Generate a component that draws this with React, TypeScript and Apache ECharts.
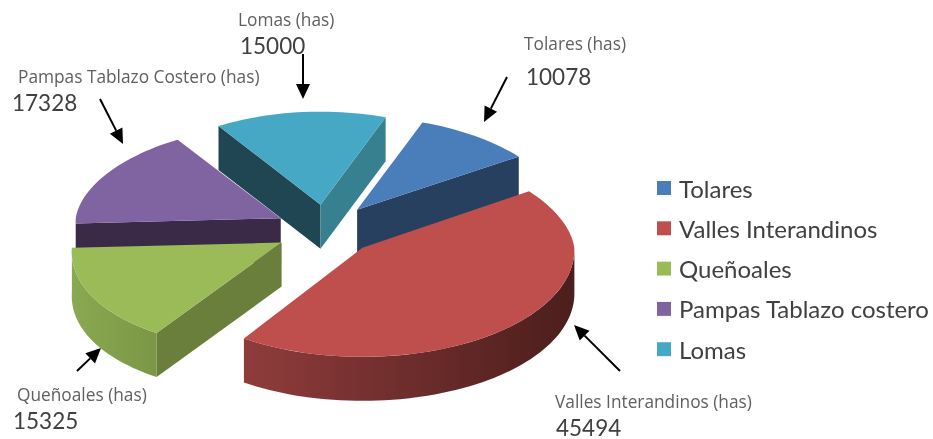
import React, { useEffect, useRef } from "react";
import * as echarts from "echarts";

// ---- data ----
const categories = ["Tolares", "Valles Interandinos", "Queñoales", "Pampas Tablazo costero", "Lomas"];
const hectares = [10078, 45494, 15325, 17328, 15000];
const calloutNames = ["Tolares", "Valles Interandinos", "Queñoales", "Pampas Tablazo Costero", "Lomas"];

// ---- styles ----
const topColors = ["#4a7ebb", "#be4f4c", "#9bbb59", "#8064a2", "#46a8c4"];
const startFaceColors = ["#27405f", "#5e2524", "#6a7f3b", "#3b2a47", "#1f4652"];
const endFaceColors = ["#27405f", "#5e2524", "#6a7f3b", "#3b2a47", "#37808f"];
const wallStops: [string, string][] = [
  ["#27405f", "#27405f"],
  ["#8f3c3b", "#4b1e1c"],
  ["#8aa851", "#7b9746"],
  ["#3b2a47", "#3b2a47"],
  ["#1f4652", "#37808f"],
];
// back-to-front painting order of the slices
const paintRank = [2, 4, 3, 1, 0];

// ---- layout of the tilted, exploded pie ----
const CX = 326;
const CY = 230;
const EXPLODE = 51;
const EXPLODE_TILT = 0.5;
const START_ANGLE = 20;
const DEPTH = 44;
const PERSPECTIVE = 0.0008;
const frontGain = [3, 3, 18, 3, 3];
const backRadiusY = [93, 99, 93, 93, 93];
const FRONT_RADIUS_Y = 109;

const calloutLayout = [
  { nameX: 524, nameY: 43, valueX: 526, valueY: 76, tail: [507, 77], tip: [484, 122] },
  { nameX: 555, nameY: 401, valueX: 556, valueY: 427, tail: [620, 371], tip: [574, 325] },
  { nameX: 17, nameY: 394, valueX: 13, valueY: 420, tail: [77, 371], tip: [101, 348] },
  { nameX: 18, nameY: 76, valueX: 12, valueY: 102, tail: [100, 99], tip: [123, 144] },
  { nameX: 238, nameY: 19, valueX: 240, valueY: 45, tail: [303, 54], tip: [303, 99] },
];

const FONT = "Lato";
const CALLOUT_FONT = "Open Sans";
const total = hectares.reduce((a, b) => a + b, 0);
const rad = (d: number) => (d * Math.PI) / 180;

function sliceStart(i: number) {
  let a = START_ANGLE;
  for (let k = 0; k < i; k++) a += (hectares[k] / total) * 360;
  return a;
}

function renderSlice(i: number) {
  return (_params: any, api: any) => {
    const value = api.value(0);
    const a = sliceStart(i);
    const b = a + (value / total) * 360;
    const mid = (a + b) / 2;
    const ax = CX + EXPLODE * Math.sin(rad(mid));
    const ay = CY - EXPLODE * EXPLODE_TILT * Math.cos(rad(mid));
    const scale = 1 + (ay - CY) * PERSPECTIVE;
    const rim = (deg: number, drop = 0) => {
      const u = Math.sin(rad(deg));
      const v = -Math.cos(rad(deg));
      const rx = (208 + u + (v < 0 ? 15 * v : frontGain[i] * v)) * scale;
      const ry = v < 0 ? backRadiusY[i] : FRONT_RADIUS_Y;
      return [ax + rx * u, ay + ry * v + drop];
    };
    const arc = (from: number, to: number, drop = 0) => {
      const n = Math.max(2, Math.ceil(Math.abs(to - from) / 2));
      const pts: number[][] = [];
      for (let k = 0; k <= n; k++) pts.push(rim(from + ((to - from) * k) / n, drop));
      return pts;
    };
    const children: any[] = [];
    // outer wall: only the part of the rim that faces the viewer
    const wa = Math.max(a, 90);
    const wb = Math.min(b, 270);
    if (wb > wa) {
      const top = arc(wa, wb);
      const bottom = arc(wb, wa, DEPTH);
      const xs = top.map((p) => p[0]);
      const minX = Math.min(...xs);
      const maxX = Math.max(...xs);
      children.push({
        type: "polygon",
        shape: { points: [...top, ...bottom] },
        style: {
          fill: new echarts.graphic.LinearGradient(
            minX, 0, maxX, 0,
            [
              { offset: 0, color: wallStops[i][0] },
              { offset: 1, color: wallStops[i][1] },
            ],
            true
          ),
        },
      });
    }
    // cut faces
    const face = (deg: number, color: string) => {
      const p = rim(deg);
      children.push({
        type: "polygon",
        shape: { points: [[ax, ay], p, [p[0], p[1] + DEPTH], [ax, ay + DEPTH]] },
        style: { fill: color },
      });
    };
    if (Math.sin(rad(a)) < 0) face(a, startFaceColors[i]);
    if (Math.sin(rad(b)) > 0) face(b, endFaceColors[i]);
    // top face
    children.push({
      type: "polygon",
      shape: { points: [[ax, ay], ...arc(a, b)] },
      style: { fill: topColors[i] },
    });
    return { type: "group", children };
  };
}

function arrow(tail: number[], tip: number[]) {
  const dx = tip[0] - tail[0];
  const dy = tip[1] - tail[1];
  const len = Math.hypot(dx, dy);
  const ux = dx / len;
  const uy = dy / len;
  const hl = 15;
  const hw = 7;
  const bx = tip[0] - ux * hl;
  const by = tip[1] - uy * hl;
  return [
    {
      type: "line",
      shape: { x1: tail[0], y1: tail[1], x2: bx, y2: by },
      style: { stroke: "#000", lineWidth: 2 },
    },
    {
      type: "polygon",
      shape: {
        points: [
          tip,
          [bx - uy * hw, by + ux * hw],
          [bx + uy * hw, by - ux * hw],
        ],
      },
      style: { fill: "#000" },
    },
  ];
}

export default function App() {
  const ref = useRef<HTMLDivElement>(null);
  useEffect(() => {
    document.body.style.margin = "0";
    const chart = echarts.init(ref.current!, null, { renderer: "svg" });
    const graphics: any[] = [];
    calloutLayout.forEach((c, i) => {
      graphics.push({
        type: "text",
        x: c.nameX,
        y: c.nameY,
        style: {
          text: `${calloutNames[i]} (has)`,
          fontFamily: CALLOUT_FONT,
          fontSize: 17.3,
          fill: "#5f5f5f",
          textVerticalAlign: "middle",
        },
      });
      graphics.push({
        type: "text",
        x: c.valueX,
        y: c.valueY,
        style: {
          text: String(hectares[i]),
          fontFamily: FONT,
          fontSize: 22.5,
          fill: "#404040",
          textVerticalAlign: "middle",
        },
      });
      graphics.push(...arrow(c.tail, c.tip));
    });
    chart.setOption({
      animation: false,
      backgroundColor: "#ffffff",
      legend: {
        data: categories,
        orient: "vertical",
        left: 657,
        top: 176,
        padding: 0,
        itemWidth: 14,
        itemHeight: 14,
        itemGap: 16.3,
        icon: "rect",
        selectedMode: false,
        textStyle: { fontFamily: FONT, fontSize: 24, color: "#404040", padding: [0, 0, 0, 3] },
      },
      series: categories.map((name, i) => ({
        type: "custom",
        name,
        coordinateSystem: "none",
        silent: true,
        z: 2 + paintRank[i],
        itemStyle: { color: topColors[i] },
        renderItem: renderSlice(i),
        data: [[hectares[i]]],
      })),
      graphic: { elements: graphics },
    });
    return () => chart.dispose();
  }, []);
  return <div ref={ref} style={{ width: 933, height: 439, filter: "blur(0.5px)" }} />;
}
